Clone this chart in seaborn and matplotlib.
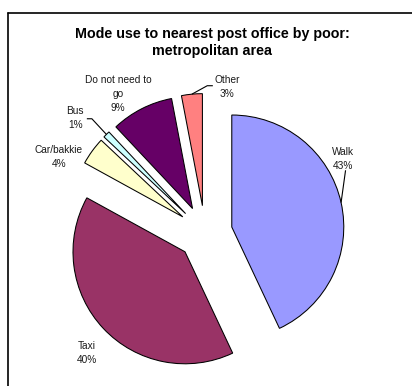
import matplotlib
matplotlib.use("Agg")
import numpy as np
import pandas as pd
import seaborn as sns
import matplotlib.pyplot as plt
from matplotlib.lines import Line2D

# Share of trips by mode (percent), clockwise from 12 o'clock
modes = ["Walk", "Taxi", "Car/bakkie", "Bus", "Do not need to\ngo", "Other"]
shares = [43, 40, 4, 1, 9, 3]
slice_colors = ["#9999FF", "#993366", "#FFFFCC", "#CCFFFF", "#660066", "#FF8080"]

title = "Mode use to nearest post office by poor:\nmetropolitan area"

df = pd.DataFrame({"mode": modes, "share": shares})

sns.set_style("white")
plt.rcParams["font.family"] = ["Liberation Sans", "DejaVu Sans"]

fig = plt.figure(figsize=(4.12, 3.86), dpi=100)
ax = fig.add_axes([0, 0, 1, 1])

palette = sns.color_palette(slice_colors)
wedges, _ = ax.pie(
    df["share"],
    colors=palette,
    startangle=90,
    counterclock=False,
    explode=[0.245] * len(df),
    radius=1.0,
    wedgeprops=dict(edgecolor="black", linewidth=0.75),
)

# one data unit = 112 px; pie centre sits at (205, 233) px from top-left
scale = 112.0
ax.set_aspect("auto")
ax.set_xlim(-205 / scale, (412 - 205) / scale)
ax.set_ylim(-(386 - 233) / scale, 233 / scale)
ax.axis("off")

# label anchor positions (data units) and optional leader elbows
label_pos = [(1.235, 0.66), (-1.054, -1.07), (-1.304, 0.68),
             (-1.16, 1.03), (-0.777, 1.24), (0.20, 1.30)]
leader_elbows = {
    0: [(1.255, 0.56)],
    3: [(-1.055, 1.02), (-1.01, 1.02)],
    5: [(0.07, 1.315), (0.02, 1.315)],
}

for i, (w, mode, share) in enumerate(zip(wedges, df["mode"], df["share"])):
    x, y = label_pos[i]
    ax.text(x, y, f"{mode}\n{share}%", ha="center", va="center",
            fontsize=7.3, linespacing=1.5, color="#1a1a1a")
    if i in leader_elbows:
        mid = np.deg2rad((w.theta1 + w.theta2) / 2)
        cx, cy = w.center
        end = (cx + w.r * np.cos(mid), cy + w.r * np.sin(mid))
        pts = leader_elbows[i] + [end]
        xs, ys = zip(*pts)
        ax.plot(xs, ys, color="black", lw=0.8, solid_capstyle="butt")

fig.text(0.515, 0.889, title, ha="center", va="center", color="black",
         fontsize=10.3, fontweight="bold", linespacing=1.25)

# chart area border (top and left edges visible)
fig.add_artist(Line2D([8 / 412, 1.0], [1 - 13 / 386, 1 - 13 / 386],
                      transform=fig.transFigure, color="black", lw=1.2))
fig.add_artist(Line2D([8 / 412, 8 / 412], [0.0, 1 - 13 / 386],
                      transform=fig.transFigure, color="black", lw=1.2))

fig.savefig("out.png", dpi=100, facecolor="white")
